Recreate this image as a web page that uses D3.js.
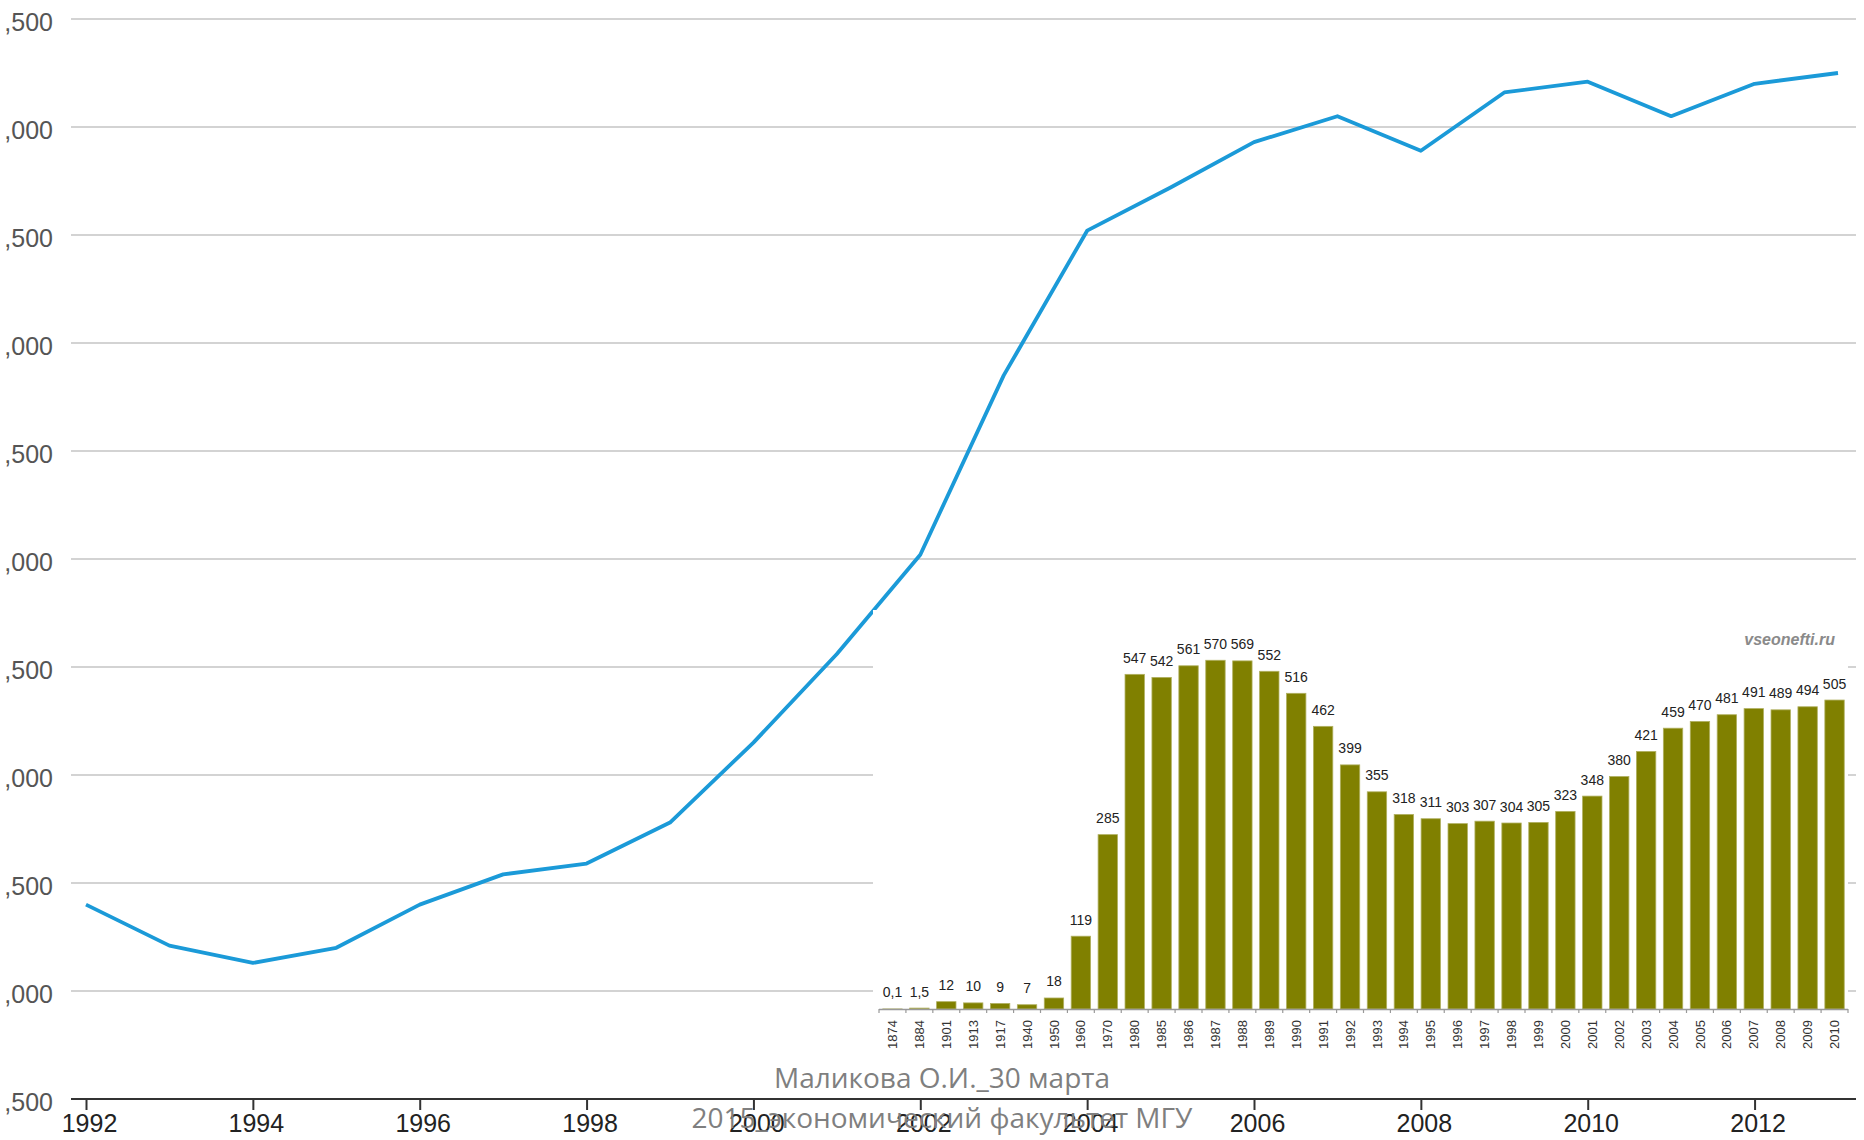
<!DOCTYPE html>
<html><head><meta charset="utf-8">
<script src="https://cdn.jsdelivr.net/npm/d3@7"></script>
<style>html,body{margin:0;padding:0;background:#fff;} svg{display:block;}</style>
</head><body>
<svg id="chart" width="1864" height="1140"></svg>
<script>
// ---- main line chart data ----
const years = [1992, 1993, 1994, 1995, 1996, 1997, 1998, 1999, 2000, 2001, 2002,
               2003, 2004, 2005, 2006, 2007, 2008, 2009, 2010, 2011, 2012, 2013];
const production = [6400, 6210, 6130, 6200, 6400, 6540, 6590, 6780, 7150, 7560, 8020,
                    8850, 9520, 9720, 9930, 10050, 9890, 10160, 10210, 10050, 10200, 10250];
const xTickYears = [1992, 1994, 1996, 1998, 2000, 2002, 2004, 2006, 2008, 2010, 2012];
const yTickValues = [5500, 6000, 6500, 7000, 7500, 8000, 8500, 9000, 9500, 10000, 10500];
const yTickLabels = [",500", ",000", ",500", ",000", ",500", ",000", ",500", ",000", ",500", ",000", ",500"];

// ---- inset bar chart data ----
const insetYears = ["1874", "1884", "1901", "1913", "1917", "1940", "1950", "1960", "1970", "1980",
                    "1985", "1986", "1987", "1988", "1989", "1990", "1991", "1992", "1993", "1994",
                    "1995", "1996", "1997", "1998", "1999", "2000", "2001", "2002", "2003", "2004",
                    "2005", "2006", "2007", "2008", "2009", "2010"];
const insetValues = [0.1, 1.5, 12, 10, 9, 7, 18, 119, 285, 547,
                     542, 561, 570, 569, 552, 516, 462, 399, 355, 318,
                     311, 303, 307, 304, 305, 323, 348, 380, 421, 459,
                     470, 481, 491, 489, 494, 505];
const insetLabels = ["0,1", "1,5", "12", "10", "9", "7", "18", "119", "285", "547",
                     "542", "561", "570", "569", "552", "516", "462", "399", "355", "318",
                     "311", "303", "307", "304", "305", "323", "348", "380", "421", "459",
                     "470", "481", "491", "489", "494", "505"];
const insetSource = "vseonefti.ru";
const footerLines = ["Маликова О.И._30 марта", "2015_экономический факультет МГУ"];

const svg = d3.select("#chart");
const FONT = "'Liberation Sans', Arial, sans-serif";

const x = d3.scaleLinear().domain([1992, 2013]).range([86, 1838]);
const y = d3.scaleLinear().domain([5500, 10500]).range([1099, 19]);

// gridlines
svg.append("g").selectAll("line").data(yTickValues.slice(1)).join("line")
  .attr("x1", 71).attr("x2", 1856)
  .attr("y1", d => y(d)).attr("y2", d => y(d))
  .attr("stroke", "#d3d3d3").attr("stroke-width", 2);

// y axis labels
const yAxis = d3.axisLeft(y).tickValues(yTickValues)
  .tickFormat((d, i) => yTickLabels[i]).tickSize(0).tickPadding(0);
const gy = svg.append("g").attr("transform", "translate(53,0)").call(yAxis);
gy.select(".domain").remove();
gy.selectAll("text").attr("dy", null).attr("y", 11)
  .style("font-family", FONT).style("font-size", "25px").attr("fill", "#555");

// x axis
const xAxis = d3.axisBottom(x).tickValues(xTickYears).tickFormat(d3.format("d"))
  .tickSize(11).tickPadding(4);
const gx = svg.append("g").attr("transform", "translate(0,1099)").call(xAxis);
gx.select(".domain").remove();
gx.selectAll(".tick line").attr("stroke", "#333").attr("stroke-width", 2);
gx.selectAll("text").attr("dx", 3).style("font-family", FONT).style("font-size", "25px").attr("fill", "#222");
svg.append("line").attr("x1", 71).attr("x2", 1856).attr("y1", 1099).attr("y2", 1099)
  .attr("stroke", "#333").attr("stroke-width", 2.2);

// line
svg.append("path").datum(years.map((yr, i) => [yr, production[i]]))
  .attr("fill", "none").attr("stroke", "#1b9ad8").attr("stroke-width", 3.8)
  .attr("stroke-linejoin", "round")
  .attr("d", d3.line().x(d => x(d[0])).y(d => y(d[1])));

// ---- inset ----
const inset = svg.append("g");
inset.append("rect").attr("x", 873).attr("y", 610).attr("width", 1848 - 873).attr("height", 450).attr("fill", "#fff");

const bx = d3.scaleBand().domain(insetYears).range([879, 1848]).paddingInner(0.28).paddingOuter(0.14);
const by = d3.scaleLinear().domain([0, 600]).range([1009, 1009 - 600 * 0.6118]);
const step = bx.step();

inset.append("g").selectAll("rect").data(insetYears).join("rect")
  .attr("x", d => bx(d)).attr("width", bx.bandwidth())
  .attr("y", (d, i) => by(insetValues[i]))
  .attr("height", (d, i) => by(0) - by(insetValues[i]))
  .attr("fill", "#808000").attr("stroke", "#b0b060").attr("stroke-width", 0.8);

// inset axis
inset.append("line").attr("x1", 879).attr("x2", 1848).attr("y1", 1009.5).attr("y2", 1009.5)
  .attr("stroke", "#999").attr("stroke-width", 1.5);
const tickPos = insetYears.map(d => bx(d) - step * 0.14).concat([1848]);
inset.append("g").selectAll("line").data(tickPos).join("line")
  .attr("x1", d => d).attr("x2", d => d).attr("y1", 1009).attr("y2", 1013)
  .attr("stroke", "#999").attr("stroke-width", 1.2);

// value labels
inset.append("g").selectAll("text").data(insetYears).join("text")
  .attr("x", d => bx(d) + bx.bandwidth() / 2)
  .attr("y", (d, i) => by(insetValues[i]) - 11.5)
  .attr("text-anchor", "middle")
  .style("font-family", FONT).style("font-size", "14px").attr("fill", "#222")
  .text((d, i) => insetLabels[i]);

// category labels
inset.append("g").selectAll("text").data(insetYears).join("text")
  .attr("transform", d => `translate(${bx(d) + bx.bandwidth() / 2},1020) rotate(-90)`)
  .attr("text-anchor", "end").attr("dy", "0.35em")
  .style("font-family", FONT).style("font-size", "13px").attr("fill", "#333")
  .text(d => d);

// source
inset.append("text").attr("x", 1835).attr("y", 645).attr("text-anchor", "end")
  .style("font-family", FONT).style("font-size", "16px").style("font-weight", "bold")
  .style("font-style", "italic").attr("fill", "#8a8a8a").text(insetSource);

// footer (overlaps the year labels exactly as in the reference)
svg.append("g").selectAll("text").data(footerLines).join("text")
  .attr("x", 942).attr("y", (d, i) => i === 0 ? 1088 : 1128)
  .attr("text-anchor", "middle")
  .style("font-family", "'Open Sans', sans-serif").style("font-size", "28px")
  .attr("fill", "#7f7f7f").text(d => d);
</script>
</body></html>
